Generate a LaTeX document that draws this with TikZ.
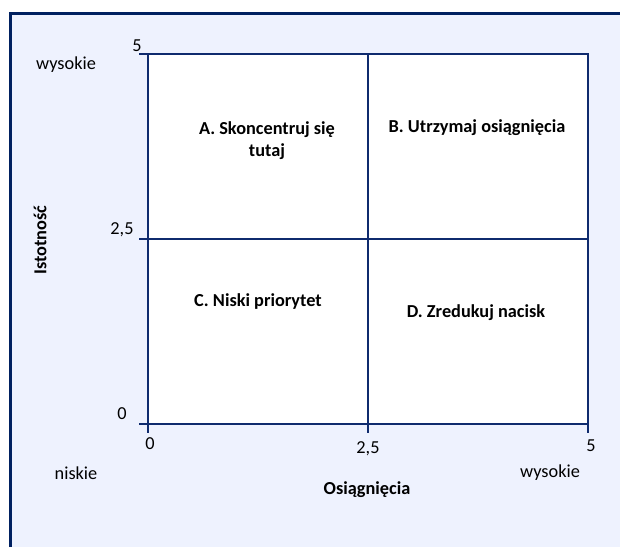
\documentclass[tikz,border=0pt]{standalone}
\usepackage{fontspec}
\setmainfont{Carlito}
\begin{document}
\begin{tikzpicture}[x=1pt,y=-1pt,
  lbl/.style={font=\fontsize{18.3}{22}\selectfont, text=black, inner sep=0pt},
  quad/.style={font=\fontsize{18.3}{22}\selectfont\bfseries, text=black, align=center, inner sep=0pt},
  grid/.style={draw=gridnavy, line width=2.9pt}]
\definecolor{framenavy}{HTML}{002060}
\definecolor{gridnavy}{HTML}{0F2B6E}
\definecolor{panel}{HTML}{EEF2FE}
\useasboundingbox (0,0) rectangle (620,547);
% panel background with its frame on the top and left
\fill[panel] (10.5,13.5) rectangle (620,547);
\draw[framenavy, line width=3.5pt] (10.5,547) -- (10.5,13.5) -- (620,13.5);
% plotting area
\fill[white] (148,54) rectangle (588,424);
\coordinate (tl) at (148,54);
\coordinate (tr) at (588,54);
\coordinate (bl) at (148,424);
\coordinate (br) at (588,424);
\coordinate (ml) at (148,239);
\coordinate (mr) at (588,239);
\coordinate (mt) at (368,54);
\coordinate (mb) at (368,424);
\draw[grid] (tl) -- (tr) -- (br) -- (bl) -- cycle;
\draw[grid] (ml) -- (mr);
\draw[grid] (mt) -- (mb);
% tick marks
\draw[grid] (tl) -- ++(-9,0);
\draw[grid] (ml) -- ++(-9,0);
\draw[grid] (bl) -- ++(-9,0);
\draw[grid] (bl) -- ++(0,9);
\draw[grid] (mb) -- ++(0,9);
\draw[grid] (br) -- ++(0,9);
% axis values
\node[lbl] (y5) at (137,46) {5};
\node[lbl] (y25) at (122,230) {2,5};
\node[lbl] (y0) at (122,414) {0};
\node[lbl] (x0) at (150,444) {0};
\node[lbl] (x25) at (368,449) {2,5};
\node[lbl] (x5) at (591,446) {5};
\node[lbl] (ylo) at (66,65) {wysokie};
\node[lbl] (xlo) at (76,473) {niskie};
\node[lbl] (xhi) at (550,473) {wysokie};
\node[quad] (xt) at (367,490) {Osiągnięcia};
\node[quad, rotate=90] (yt) at (40,240) {Istotność};
% quadrant labels
\node[quad] (qa) at (267,141) {A. Skoncentruj się\\tutaj};
\node[quad] (qb) at (477,128) {B. Utrzymaj osiągnięcia};
\node[quad] (qc) at (258,302) {C. Niski priorytet};
\node[quad] (qd) at (476,313) {D. Zredukuj nacisk};
\end{tikzpicture}
\end{document}
